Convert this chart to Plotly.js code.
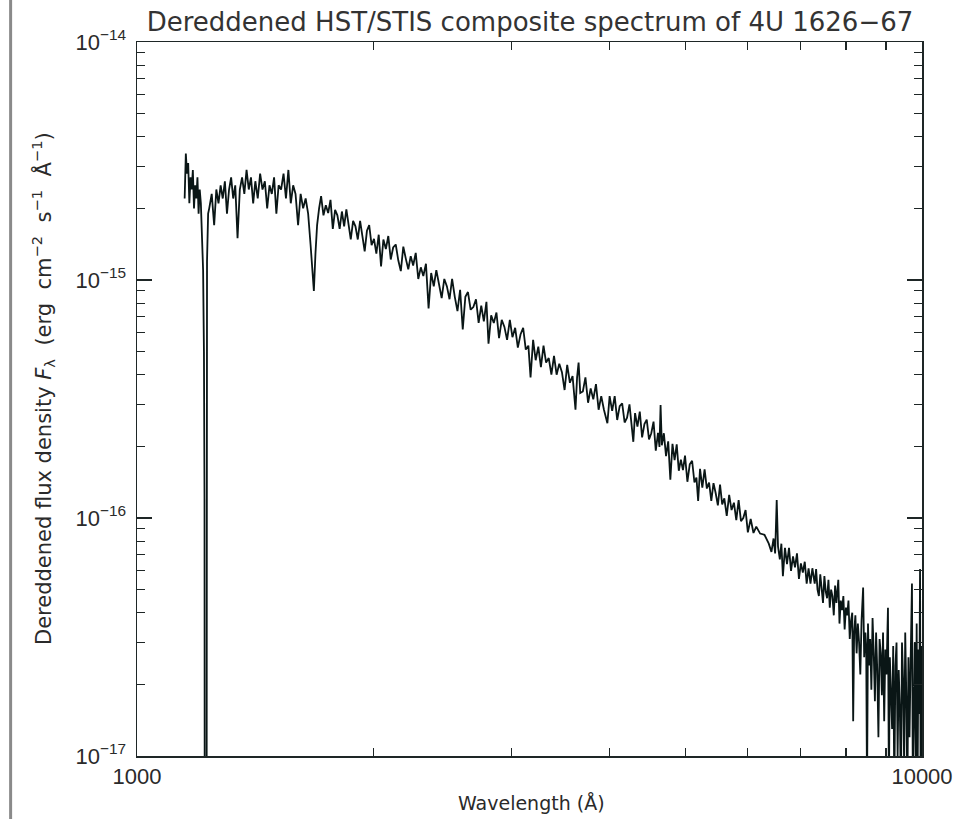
<!DOCTYPE html>
<html>
<head>
<meta charset="utf-8">
<script src="https://cdn.plot.ly/plotly-3.0.1.min.js"></script>
<style>html,body{margin:0;padding:0;background:#fff;}#chart{width:975px;height:819px;}</style>
</head>
<body>
<div id="chart"></div>
<script>
// Spectrum. Wavelength in Angstrom, flux in units of 1e-16 erg cm^-2 s^-1 A^-1
// Segment A: short-wavelength end and Lyman-alpha trough
const wlA = [1150,1154,1158,1162,1166,1170,1174,1178,1182,1186,1190,1194,1198,1202,1206,1210,1214,1217,1219,1221,1225,1228,1232];
const fxA = [22,34,28,31,21,27,24,29,20,25,22,27,19,24,21,16,11,5,1.2,0.0001,0.0001,12,19];
// Segment B: FUV plateau
const wlB = [1236,1245,1254,1262,1270,1278,1286,1294,1302,1310,1318,1326,1334,1343,1352,1361,1370,1379,1388,1397,1406,1415,1425,1435,1445,1455,1465,1475,1485,1495,1505,1515,1526,1537,1548,1559,1570,1581,1592,1604,1616,1628,1640,1652,1664,1672,1680,1688,1696,1706];
const fxB = [20,23,17,24,21,25,22,26,19,24,27,22,25,15,24,27,23,29,24,27,21,26,22,28,24,26,20,25,23,27,19,25,24,28,22,29,21,25,23,17,23,20,22,19,14,11,9,13,17,20];
// Segment C: NUV
const wlC = [
1716,1728,1740,1752,1764,1776,1788,1800,1812,1824,
1836,1848,1860,1872,1885,1898,1911,1924,1937,1950,
1963,1976,1990,2004,2018,2032,2046,2060,2075,2090,
2105,2120,2136,2152,2168,2184,2200,2216,2232,2248,
2265,2282,2299,2316,2334,2352,2370,2388,2406,2425,
2444,2463,2482,2501,2520,2540,2560,2580,2600,2620,
2640,2661,2682,2703,2724,2745,2766,2787,2804,2826,
2848,2870,2892,2915,2938,2961,2985,3008,3032,3056,
3080,3104,3128,3152,3172,3196,3220,3245,3270,3295,
3320,3346,3372,3398,3424,3451,3478,3505,3532,3560,
3588,3619,3636,3652,3670,3698,3726,3755,3784,3813,
3843,3873,3903,3934,3974,4000];
const fxC = [
22.5,18.7,20.6,19.1,21.7,16.4,19.7,18.7,16.4,19.4,
16.8,19.8,17.0,14.8,17.7,16.8,14.8,17.7,15.3,13.2,
16.1,17.0,14.0,14.9,12.9,15.5,11.4,14.8,13.5,15.3,
12.2,13.7,14.1,12.1,10.9,13.8,12.3,11.1,12.6,11.5,
13.0,10.1,11.3,10.4,11.7,7.6,10.7,9.4,11.0,9.7,
8.4,10.1,9.4,8.3,10.1,8.5,7.4,9.1,6.2,8.5,
8.9,7.5,7.7,8.3,6.6,7.8,6.7,8.1,5.4,7.1,
6.6,7.3,5.7,6.8,6.35,5.6,6.8,5.75,6.3,5.2,
5.9,6.3,5.1,5.3,3.9,5.6,4.6,5.25,4.3,5.3,
4.5,4.7,4.0,4.8,4.0,4.45,4.1,3.45,4.4,3.7,
3.95,2.85,3.9,4.5,3.35,3.4,3.9,3.05,3.5,3.15,
3.65,2.85,3.25,2.85,2.5,3.25];
// Segment D: optical
const wlD = [
4030,4060,4090,4120,4150,4180,4210,4240,4270,4288,
4310,4340,4370,4400,4430,4460,4490,4520,4550,4580,
4610,4630,4645,4662,4690,4720,4750,4780,4810,4840,
4870,4900,4930,4960,4990,5025,5060,5095,5130,5160,
5186,5215,5250,5285,5320,5355,5390,5425,5460,5495,
5530,5565,5600,5640,5680,5720,5760,5800,5840,5880,
5920,5960,6000,6050,6100,6150,6220,6300,6380,6430,
6470,6500,6530,6555,6590,6620,6650,6690,6730,6770,
6810,6850,6890,6930,6970,7010,7050,7090,7130,7170,
7210,7250];
const fxD = [
2.82,3.25,2.58,2.95,3.03,2.52,2.64,3.0,2.46,2.09,
2.76,2.42,2.80,2.18,2.48,2.59,2.14,2.27,2.54,1.92,
2.28,1.99,2.98,2.02,2.27,1.82,2.10,1.45,2.05,1.75,
2.04,1.58,1.76,1.59,1.83,1.42,1.68,1.74,1.41,1.48,
1.18,1.61,1.34,1.60,1.33,1.41,1.18,1.40,1.27,1.13,
1.38,1.14,1.21,1.02,1.25,1.08,1.16,0.98,1.19,0.97,
1.0,1.08,0.87,0.99,0.865,0.92,0.86,0.85,0.78,0.72,
0.82,0.71,1.19,0.76,0.67,0.78,0.57,0.75,0.64,0.75,
0.60,0.69,0.62,0.71,0.555,0.645,0.59,0.655,0.53,0.615,
0.53,0.615];
// Segment E: red end, noisy
const wlE = [
7300,7330,7360,7390,7420,7450,7480,7510,7540,7570,
7600,7630,7660,7690,7720,7750,7780,7823,7850,7880,
7910,7940,7970,8000,8030,8060,8090,8120,8150,8172,
8195,8225,8255,8285,8315,8345,8375,8414,8440,8470,
8490,8511,8535,8560,8590,8620,8650,8680,8710,8740,
8770,8800,8830,8860,8890,8920,8950,8980,9010,9050,
9075,9100,9130,9160,9190,9220,9250,9280,9310,9340,
9370,9400,9430,9460,9490,9520,9550,9580,9610,9640,
9670,9710,9735,9760,9790,9820,9845,9870,9895,9920,
9943,9960,9975,9990];
const fxE = [
0.53,0.61,0.50,0.47,0.58,0.52,0.44,0.57,0.49,0.46,
0.55,0.42,0.50,0.47,0.39,0.52,0.44,0.55,0.36,0.45,
0.41,0.47,0.34,0.42,0.39,0.45,0.31,0.37,0.40,0.14,
0.33,0.39,0.27,0.36,0.30,0.22,0.37,0.51,0.26,0.33,
0.29,0.07,0.36,0.24,0.31,0.19,0.38,0.27,0.17,0.33,
0.23,0.12,0.31,0.27,0.18,0.33,0.14,0.28,0.22,0.42,
0.07,0.26,0.19,0.13,0.29,0.07,0.24,0.30,0.10,0.23,
0.16,0.07,0.30,0.21,0.09,0.33,0.18,0.07,0.26,0.12,
0.24,0.53,0.07,0.19,0.30,0.09,0.36,0.07,0.28,0.15,
0.61,0.07,0.29,0.07];

const xTickVals = [1000,2000,3000,4000,5000,6000,7000,8000,9000,10000];
const xTickText = ['1000','','','','','','','','','10000'];
const yMajorVals = [1e-17,1e-16,1e-15,1e-14];
const yMajorText = ['10<sup>\u221217</sup>','10<sup>\u221216</sup>','10<sup>\u221215</sup>','10<sup>\u221214</sup>'];
const yMinorVals = [2e-17,3e-17,4e-17,5e-17,6e-17,7e-17,8e-17,9e-17,2e-16,3e-16,4e-16,5e-16,6e-16,7e-16,8e-16,9e-16,2e-15,3e-15,4e-15,5e-15,6e-15,7e-15,8e-15,9e-15];

const wavelength = [].concat(wlA, wlB, wlC, wlD, wlE);
const fluxE16 = [].concat(fxA, fxB, fxC, fxD, fxE);
const flux = fluxE16.map(v => v * 1e-16);

const axisColor = '#1e2626';
const textColor = '#2a2a2a';
const trace = {
  x: wavelength, y: flux, type: 'scatter', mode: 'lines',
  line: {color: '#0a1616', width: 1.8},
  hoverinfo: 'skip'
};

const sp = '\u00a0';
const layout = {
  width: 975, height: 819,
  margin: {l: 137, r: 53, t: 42, b: 63},
  paper_bgcolor: '#ffffff', plot_bgcolor: '#ffffff',
  showlegend: false,
  title: {text: 'Dereddened HST/STIS composite spectrum of 4U 1626\u221267',
          font: {family: 'DejaVu Sans', size: 26, color: '#333333'},
          x: 0.5436, xanchor: 'center', y: 0.973, yanchor: 'middle'},
  xaxis: {
    type: 'log', range: [3, 4], tickmode: 'array', tickvals: xTickVals, ticktext: xTickText,
    ticks: 'inside', ticklen: 8, tickwidth: 1.2, tickcolor: axisColor,
    showline: true, linecolor: axisColor, linewidth: 1.5, mirror: 'ticks',
    showgrid: false, zeroline: false,
    tickfont: {family: 'Liberation Sans', size: 22, color: textColor},
    ticklabelstandoff: 0
  },
  yaxis: {
    type: 'log', range: [-17, -14], tickmode: 'array', tickvals: yMajorVals, ticktext: yMajorText,
    ticks: 'inside', ticklen: 15, tickwidth: 1.2, tickcolor: axisColor,
    minor: {tickmode: 'array', tickvals: yMinorVals, ticks: 'inside', ticklen: 8, tickwidth: 1, tickcolor: axisColor, showgrid: false},
    showline: true, linecolor: axisColor, linewidth: 1.5, mirror: 'ticks',
    showgrid: false, zeroline: false,
    tickfont: {family: 'Liberation Sans', size: 22, color: textColor},
    ticklabelstandoff: 5
  },
  annotations: [
    {text: 'Wavelength (\u00c5)', xref: 'paper', yref: 'paper', x: 0.503, y: -0.0658,
     xanchor: 'center', yanchor: 'middle', showarrow: false,
     font: {family: 'DejaVu Sans', size: 19, color: textColor}},
    {text: 'Dereddened flux density <i>F</i><sub>\u03bb</sub>' + sp + sp + '(erg' + sp + sp + 'cm<sup>\u22122</sup>' + sp + sp + 's<sup>\u22121</sup>' + sp + sp + '\u00c5<sup>\u22121</sup>)',
     xref: 'paper', yref: 'paper', x: -0.1197, y: 0.514, textangle: -90,
     xanchor: 'center', yanchor: 'middle', showarrow: false,
     font: {family: 'DejaVu Sans', size: 21, color: textColor}}
  ],
  shapes: [{type: 'line', xref: 'paper', yref: 'paper', x0: -0.161, x1: -0.161, y0: -0.09, y1: 1.06,
            line: {color: '#8a8a8a', width: 3}}]
};

Plotly.newPlot('chart', [trace], layout, {displayModeBar: false, staticPlot: true});
</script>
</body>
</html>
